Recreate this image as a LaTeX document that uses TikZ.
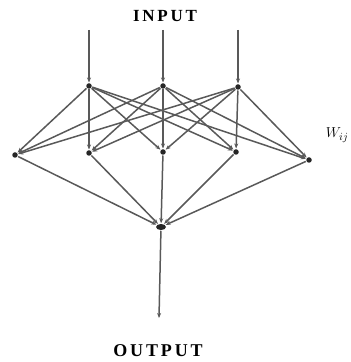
\documentclass[tikz,border=0pt]{standalone}
\usepackage{amsmath,amssymb}
\usepackage{fontspec}
\newfontfamily\netfont[LetterSpace=16]{Liberation Serif}
\usetikzlibrary{arrows.meta,shapes.geometric}

\tikzset{
  unit/.style={circle,fill=black!85,inner sep=0pt,minimum size=5.5pt},
  syn/.style={-{Stealth[length=5pt,width=4pt]}},
}

\begin{document}
\begin{tikzpicture}[x=1pt,y=1pt,line width=1.5pt,draw=black!65]
\path[use as bounding box] (0,0) rectangle (351,362);
% input layer
\node[unit] (i1) at (89,276) {};
\node[unit] (i2) at (163,276) {};
\node[unit] (i3) at (238,275) {};
\foreach \k/\x in {1/89,2/163,3/238}
  \coordinate (t\k) at (\x,332);
% hidden layer
\node[unit] (h1) at (15,207) {};
\node[unit] (h2) at (89,209) {};
\node[unit] (h3) at (163,210) {};
\node[unit] (h4) at (236,210) {};
\node[unit] (h5) at (309,202) {};
% output
\node[unit,ellipse,minimum width=10pt,minimum height=6pt] (o) at (161,135) {};
\coordinate (e) at (159,44);
\foreach \k in {1,2,3}
  \draw[syn] (t\k) -- (i\k);
\foreach \k in {1,2,3} \foreach \j in {1,...,5}
  \draw[syn] (i\k) -- (h\j);
\foreach \j in {1,...,5}
  \draw[syn] (h\j) -- (o);
\draw[syn] (o) -- (e);
\node (in) at (165,346) {\netfont\bfseries\fontsize{17}{20}\selectfont INPUT};
\node (out) at (158,11) {\netfont\bfseries\fontsize{18}{21}\selectfont OUTPUT};
\node[anchor=base west,inner sep=0pt] (w) at (325,224) {\fontsize{15}{18}\selectfont\(W_{ij}\)};
\end{tikzpicture}
\end{document}
